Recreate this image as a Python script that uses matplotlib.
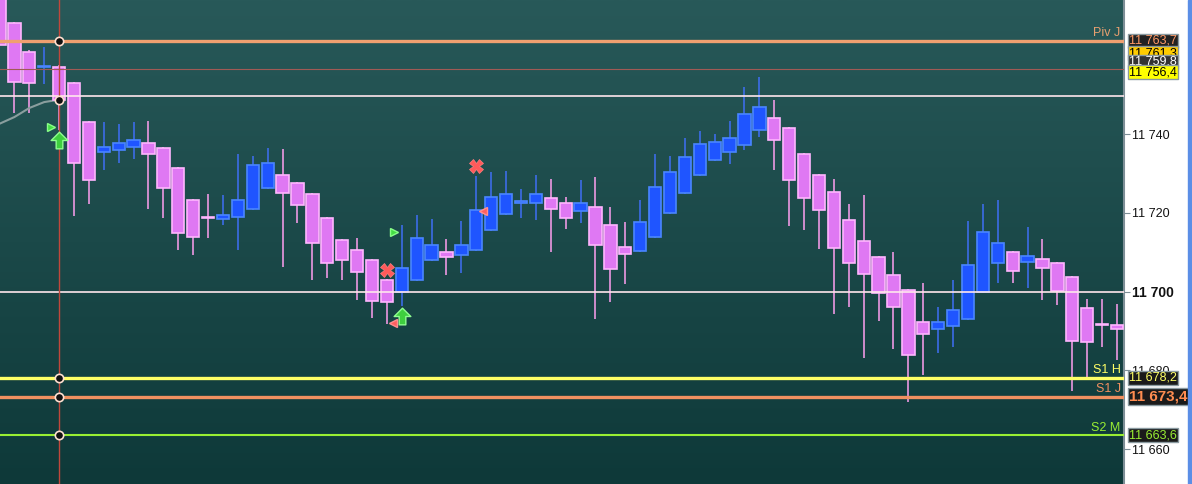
import numpy as np
import matplotlib
matplotlib.use("Agg")
import matplotlib.pyplot as plt
from matplotlib.colors import LinearSegmentedColormap
from matplotlib.path import Path
from matplotlib.patches import Rectangle

plt.rcParams['font.family'] = ['Liberation Sans', 'DejaVu Sans']

# candles (index 0 = leftmost, partly cut)
opens = [11776.0, 11768.2, 11760.8, 11756.9, 11757.0, 11753.0, 11743.1, 11735.5, 11736.0, 11736.7,
         11737.7, 11736.5, 11731.4, 11723.3, 11718.8, 11718.5, 11719.0, 11721.0, 11726.3, 11729.6,
         11727.6, 11724.8, 11718.7, 11713.1, 11710.6, 11708.0, 11703.0, 11700.0, 11703.0, 11708.0,
         11710.1, 11709.3, 11710.6, 11715.7, 11719.7, 11722.5, 11722.5, 11723.8, 11722.5, 11720.5,
         11721.5, 11716.9, 11711.3, 11710.3, 11713.9, 11720.0, 11725.1, 11729.6, 11733.4, 11735.5,
         11737.2, 11741.0, 11744.1, 11741.5, 11734.9, 11729.6, 11725.3, 11718.2, 11712.9, 11708.8,
         11704.2, 11700.4, 11692.3, 11690.5, 11691.3, 11693.1, 11699.9, 11707.3, 11710.1, 11707.5,
         11708.3, 11707.3, 11703.7, 11695.9, 11691.6, 11691.5]
highs = [11780.0, 11768.5, 11761.3, 11762.1, 11757.5, 11753.2, 11743.3, 11743.1, 11742.6, 11743.1,
         11743.4, 11736.7, 11731.6, 11723.5, 11724.8, 11724.5, 11734.9, 11734.4, 11736.5, 11736.2,
         11727.8, 11725.0, 11718.9, 11713.3, 11713.6, 11708.2, 11703.2, 11716.9, 11719.5, 11718.5,
         11713.4, 11717.9, 11729.4, 11730.4, 11730.6, 11726.1, 11729.6, 11728.6, 11724.0, 11728.4,
         11729.1, 11721.5, 11717.7, 11723.3, 11734.9, 11734.4, 11739.0, 11740.8, 11740.0, 11743.3,
         11752.0, 11754.5, 11748.7, 11741.7, 11735.1, 11729.8, 11728.6, 11722.3, 11724.5, 11709.0,
         11710.1, 11700.6, 11702.2, 11696.1, 11703.0, 11718.0, 11722.3, 11723.3, 11710.3, 11716.4,
         11713.4, 11707.5, 11703.9, 11698.1, 11698.1, 11696.9]
lows = [11762.4, 11745.3, 11745.3, 11752.7, 11741.1, 11719.2, 11722.3, 11730.9, 11732.7, 11733.7,
        11721.0, 11718.7, 11710.6, 11709.3, 11713.6, 11716.9, 11710.6, 11720.8, 11726.1, 11706.3,
        11717.4, 11703.0, 11703.5, 11703.0, 11697.9, 11693.3, 11691.8, 11696.4, 11702.8, 11707.8,
        11704.2, 11704.7, 11710.4, 11715.5, 11719.5, 11718.7, 11718.2, 11710.1, 11715.9, 11717.4,
        11693.1, 11697.4, 11702.0, 11710.1, 11713.7, 11719.8, 11724.9, 11729.4, 11733.2, 11732.4,
        11736.0, 11739.3, 11730.9, 11716.7, 11715.7, 11710.8, 11694.3, 11696.1, 11683.2, 11692.6,
        11685.5, 11672.0, 11678.9, 11684.4, 11686.0, 11692.9, 11699.7, 11702.2, 11702.2, 11701.0,
        11697.9, 11696.6, 11674.8, 11678.4, 11686.0, 11682.7]
closes = [11762.6, 11753.2, 11753.0, 11757.1, 11748.7, 11732.6, 11728.4, 11736.7, 11737.7, 11738.5,
          11734.9, 11726.3, 11714.9, 11713.9, 11718.7, 11719.5, 11723.3, 11732.2, 11732.7, 11725.1,
          11722.0, 11712.4, 11707.3, 11708.0, 11705.0, 11697.6, 11697.4, 11706.0, 11713.6, 11711.8,
          11708.8, 11711.8, 11720.7, 11724.0, 11724.8, 11723.0, 11724.8, 11721.0, 11718.7, 11722.5,
          11711.9, 11705.8, 11709.6, 11717.7, 11726.6, 11730.4, 11734.2, 11737.5, 11738.0, 11739.0,
          11745.1, 11746.9, 11738.5, 11728.4, 11723.8, 11720.7, 11711.1, 11707.3, 11704.5, 11699.7,
          11696.1, 11683.9, 11689.3, 11692.3, 11695.4, 11706.8, 11715.2, 11712.4, 11705.3, 11709.1,
          11706.0, 11700.2, 11687.5, 11687.2, 11691.5, 11690.5]

# short moving average piece at the left
ma_x = [0, 1, 2, 3, 4]
ma_y = [11742.6, 11744.3, 11746.6, 11748.1, 11748.7]

# signal markers
green_tri_x = [3.46, 26.51]
green_tri_y = [11741.9, 11715.2]
green_arrow_x = [4, 27]
green_arrow_y = [11738.6, 11693.7]
red_tri_x = [26.44, 32.42]
red_tri_y = [11692.1, 11720.4]
red_x_x = [26, 32]
red_x_y = [11705.4, 11731.8]

# levels
piv_j = 11763.7
s1_h = 11678.2
s1_j = 11673.4
s2_m = 11663.6
faint_level = 11756.4
white_levels = [11749.6, 11700.0]
cursor_idx = 4
cursor_vals = [11763.7, 11748.7, 11678.2, 11673.4, 11663.6]

yticks = [11660, 11680, 11700, 11720, 11740]

fig = plt.figure(figsize=(11.92, 4.84), dpi=100)
fig.patch.set_facecolor("white")
ax = fig.add_axes([0, 0, 1124 / 1192, 1])

xmin, xmax = 0.034, 75.47
ymin, ymax = 11651.2, 11774.0

# background gradient
cmap = LinearSegmentedColormap.from_list("bg", ["#0e3939", "#285959"])
grad = np.linspace(0, 1, 256).reshape(-1, 1)
ax.imshow(grad, cmap=cmap, origin="lower", aspect="auto",
          extent=[xmin, xmax, ymin, ymax], zorder=0)

# candles
x = np.arange(len(opens))
o = np.array(opens); c = np.array(closes)
up = c >= o
for i in x:
    if up[i]:
        wick, face, edge = "#3f6ff5", "#1f55ff", "#4a86ff"
    else:
        wick, face, edge = "#ff9ff0", "#df78f3", "#ffb6ff"
    ax.vlines(i, lows[i], highs[i], color=wick, lw=1.1, zorder=2)
    lo = min(o[i], c[i]); h = max(abs(c[i] - o[i]), 0.3)
    ax.bar(i, h, bottom=lo, width=0.82, color=face, edgecolor=edge, lw=1.2, zorder=3)

ax.plot(ma_x, ma_y, color="#8a9e9e", lw=1.5, zorder=2)

# level lines
ax.axhline(faint_level, color="#a05a55", lw=0.8, zorder=4)
for v in white_levels:
    ax.axhline(v, color="#ffe6ec", lw=1.2, zorder=4)
ax.axhline(piv_j, color="#f0a070", lw=2.4, zorder=4)
ax.axhline(s1_h, color="#ffff66", lw=2.4, zorder=4)
ax.axhline(s1_j, color="#f09060", lw=2.4, zorder=4)
ax.axhline(s2_m, color="#99ee33", lw=1.5, zorder=4)

ax.axvline(cursor_idx, color="#c0483c", lw=1, zorder=5)
ax.plot([cursor_idx] * len(cursor_vals), cursor_vals, "o", ms=6, mfc="#111111",
        mec="#ffe0d0", mew=1.2, zorder=6)

# signals
arrow = Path([(-0.2, -0.5), (0.2, -0.5), (0.2, 0.0), (0.5, 0.0), (0, 0.5),
              (-0.5, 0.0), (-0.2, 0.0), (-0.2, -0.5)],
             [Path.MOVETO] + [Path.LINETO] * 6 + [Path.CLOSEPOLY])
ax.plot(green_tri_x, green_tri_y, ">", ms=6, color="#44dd44", mec="#88ff88", zorder=6)
ax.plot(green_arrow_x, green_arrow_y, marker=arrow, ls="none", ms=12, mfc="#3fcf3f",
        mec="#90ff90", mew=1, zorder=6)
ax.plot(red_tri_x, red_tri_y, "<", ms=6, color="#ff5f5f", mec="#ff9090", zorder=6)
ax.plot(red_x_x, red_x_y, "X", ms=10, color="#ff5a5a", mec="#ff8080", mew=0.5, zorder=6)

ax.set_xlim(xmin, xmax)
ax.set_ylim(ymin, ymax)
ax.set_xticks([])
for s in ["top", "left", "bottom"]:
    ax.spines[s].set_visible(False)
ax.spines["right"].set_color("#7d8e96")
ax.spines["right"].set_linewidth(1.5)

ax.yaxis.tick_right()
ax.set_yticks(yticks)
ax.set_yticklabels([f"{v:,}".replace(",", " ") for v in yticks])
ax.tick_params(axis="y", length=4, color="#7d8e96", pad=2, labelsize=9, labelcolor="#111111")
for lbl in ax.get_yticklabels():
    if lbl.get_text() == "11 700":
        lbl.set_fontweight("bold")
        lbl.set_fontsize(10)

# level names inside the plot
tr = ax.get_yaxis_transform()
ax.text(0.997, piv_j + 0.3, "Piv J", color="#e8a070", fontsize=9, ha="right", va="bottom", transform=tr, zorder=7)
ax.text(0.997, s1_h + 0.3, "S1 H", color="#ffff66", fontsize=9, ha="right", va="bottom", transform=tr, zorder=7)
ax.text(0.997, s1_j + 0.3, "S1 J", color="#f09060", fontsize=9, ha="right", va="bottom", transform=tr, zorder=7)
ax.text(0.997, s2_m + 0.3, "S2 M", color="#99ee33", fontsize=9, ha="right", va="bottom", transform=tr, zorder=7)

# price boxes on the axis (later ones drawn on top)
boxes = [
    (11763.7, 0.0, "#222222", "#ff9a66", 9, "normal", 0.08),
    (11761.3, -0.8, "#ffcc00", "#000000", 9, "normal", 0.08),
    (11759.8, -1.5, "#333333", "#ffffff", 9, "normal", 0.08),
    (11756.4, -0.7, "#ffff00", "#000000", 9, "normal", 0.08),
    (s1_h, 0.0, "#1a1a1a", "#ffff66", 9, "normal", 0.08),
    (s1_j, 0.0, "#1a1a1a", "#ff8c50", 11, "bold", 0.1),
    (s2_m, 0.0, "#1a1a1a", "#99ee33", 9, "normal", 0.08),
]
for k, (val, nudge, bg, fg, fs, fw, pad) in enumerate(boxes):
    txt = f"{val:,.1f}".replace(",", " ").replace(".", ",")
    ax.text(1.0045, val + nudge, txt, color=fg, fontsize=fs, fontweight=fw, ha="left", va="center",
            transform=tr, zorder=8 + k, clip_on=False,
            bbox=dict(boxstyle=f"square,pad={pad}", fc=bg, ec="#8a9aa0", lw=1))

fig.patches.append(Rectangle((1188 / 1192, 0), 4 / 1192, 1, transform=fig.transFigure,
                             color="#5b8ee6", zorder=0))

fig.savefig("out.png", dpi=100)
